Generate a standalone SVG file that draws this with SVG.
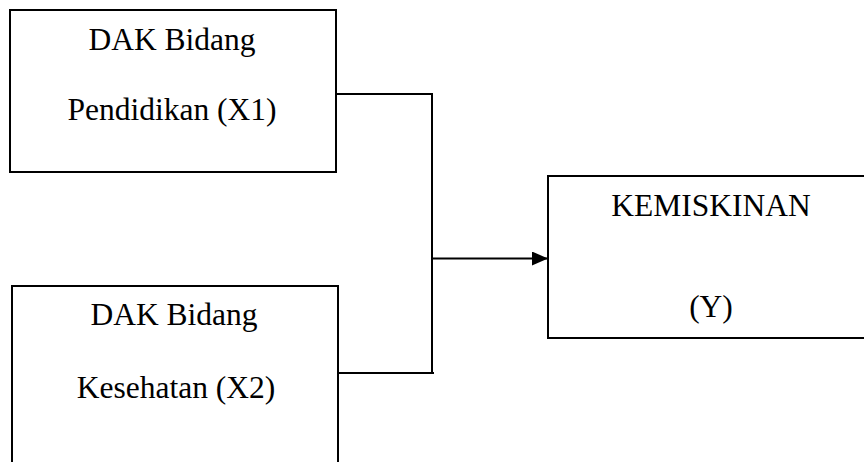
<svg xmlns="http://www.w3.org/2000/svg" width="864" height="462" viewBox="0 0 864 462">
<style>
.box{fill:#fff;stroke:#000;stroke-width:2}
.lbl{font-family:"Liberation Serif","Times New Roman",serif;font-size:31.5px;fill:#000;text-anchor:middle}
.con{fill:none;stroke:#000;stroke-width:2}
</style>
<defs>
<marker id="arr" markerUnits="userSpaceOnUse" markerWidth="17" markerHeight="14" refX="16" refY="7" orient="auto">
<path d="M0,0 L16,7 L0,14 Z" fill="#000"/>
</marker>
</defs>
<rect width="864" height="462" fill="#fff"/>
<g id="x1">
<rect class="box" x="10" y="10" width="326" height="162"/>
<text class="lbl" x="172" y="49.5">DAK Bidang</text>
<text class="lbl" x="172" y="120">Pendidikan (X1)</text>
</g>
<g id="x2">
<rect class="box" x="12" y="286" width="326" height="190"/>
<text class="lbl" x="174" y="325">DAK Bidang</text>
<text class="lbl" x="176" y="398">Kesehatan (X2)</text>
</g>
<g id="y">
<rect class="box" x="548" y="176" width="330" height="162"/>
<text class="lbl" x="711" y="216">KEMISKINAN</text>
<text class="lbl" x="711" y="317">(Y)</text>
</g>
<g id="connectors">
<polyline class="con" points="336,94 432,94 432,373"/>
<line class="con" x1="338" y1="373" x2="434" y2="373"/>
<line class="con" x1="432" y1="258.5" x2="548" y2="258.5" marker-end="url(#arr)"/>
</g>
</svg>
